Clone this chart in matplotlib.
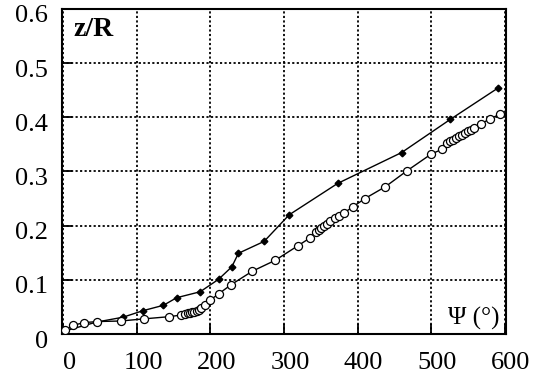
import matplotlib
matplotlib.use("Agg")
import matplotlib.pyplot as plt
import matplotlib.transforms as mtransforms

# Filled-marker series
psi_filled = [0, 45, 81, 108, 136, 154, 186, 211, 229, 238, 273, 307, 373, 460, 526, 591]
z_filled = [0.005, 0.022, 0.031, 0.043, 0.053, 0.067, 0.078, 0.101, 0.124, 0.149,
            0.171, 0.220, 0.278, 0.335, 0.396, 0.454]

# Open-circle series
psi_open = [2, 13, 28, 46, 78, 110, 144, 160,
            166, 169, 172, 175, 178, 181, 184, 187,
            193, 199, 211, 228, 257, 288, 319, 335,
            343, 347, 351, 355, 359, 363, 369, 375, 381,
            394, 410, 438, 467, 500, 515,
            522, 526, 530, 534, 538, 542, 546, 550, 554, 558,
            568, 580, 594]
z_open = [0.007, 0.016, 0.021, 0.023, 0.024, 0.028, 0.032, 0.035,
          0.037, 0.038, 0.039, 0.040, 0.041, 0.043, 0.045, 0.048,
          0.053, 0.062, 0.074, 0.091, 0.116, 0.136, 0.163, 0.177,
          0.188, 0.192, 0.196, 0.200, 0.204, 0.208, 0.214, 0.218, 0.223,
          0.235, 0.250, 0.272, 0.301, 0.332, 0.341,
          0.353, 0.356, 0.359, 0.362, 0.365, 0.368, 0.371, 0.374, 0.377, 0.381,
          0.388, 0.397, 0.406]

xticks = [0, 100, 200, 300, 400, 500, 600]
yticks = [0, 0.1, 0.2, 0.3, 0.4, 0.5, 0.6]
yticklabels = ["0", "0.1", "0.2", "0.3", "0.4", "0.5", "0.6"]

plt.rcParams['font.family'] = ['Liberation Serif', 'DejaVu Serif']

W, H = 541, 385
fig = plt.figure(figsize=(W / 100, H / 100), dpi=100)
ax = fig.add_axes([62 / W, 1 - 334 / H, (506 - 62) / W, (334 - 9) / H])

ax.plot(psi_filled, z_filled, color='black', lw=1.0, marker='D', ms=3.4,
        mfc='black', mec='black', zorder=3)
ax.plot(psi_open, z_open, color='black', lw=1.0, marker='o', ms=5.8,
        mfc='white', mec='black', mew=0.9, zorder=4)

ax.set_xlim(-2, 602)
ax.set_ylim(0, 0.6)
ax.set_xticks(xticks)
ax.set_yticks(yticks)
ax.set_yticklabels(yticklabels)

ax.grid(True, color='black', linestyle=(0, (1.2, 1.3)), linewidth=1.3)
ax.set_axisbelow(True)

for s in ax.spines.values():
    s.set_linewidth(1.5)
    s.set_color('black')

ax.tick_params(axis='both', direction='in', length=7, width=1.3,
               labelsize=19, colors='black')
ax.tick_params(axis='x', pad=13)
ax.tick_params(axis='y', pad=10)

offx = mtransforms.ScaledTranslation(6 / 100, 0, fig.dpi_scale_trans)
for lab in ax.get_xticklabels():
    lab.set_transform(lab.get_transform() + offx)
offy = mtransforms.ScaledTranslation(0, -5 / 100, fig.dpi_scale_trans)
for lab in ax.get_yticklabels():
    lab.set_transform(lab.get_transform() + offy)

ax.text(73 / W, 1 - 30 / H, "z/R", transform=fig.transFigure, fontsize=20,
        fontweight='bold', ha='left', va='center')
ax.text(499 / W, 1 - 318 / H, "Ψ (°)", transform=fig.transFigure, fontsize=18,
        ha='right', va='center')

fig.savefig("out.png", dpi=100)
